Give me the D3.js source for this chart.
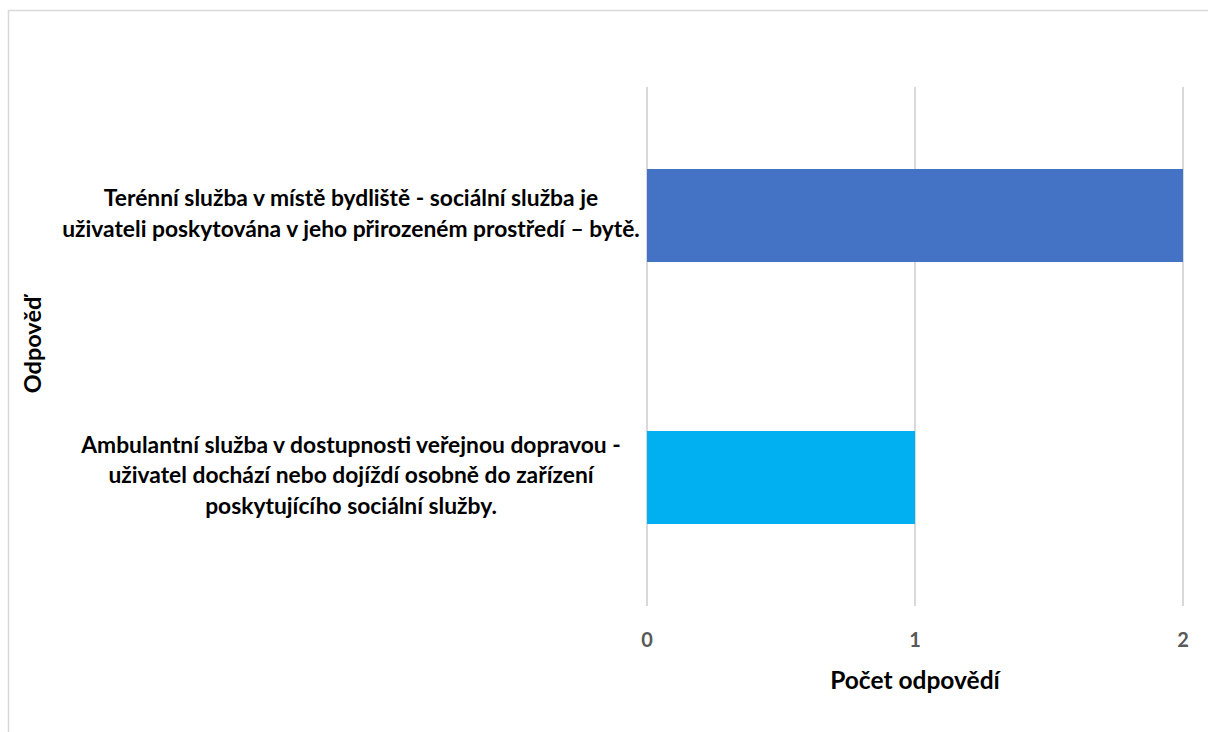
<!DOCTYPE html>
<html>
<head>
<meta charset="utf-8">
<script src="https://cdn.jsdelivr.net/npm/d3@7"></script>
<style>
  body { margin: 0; background: #fff; }
  svg { display: block; }
</style>
</head>
<body>
<div id="chart"></div>
<script>
// data
const categories = [
  "Terénní služba v místě bydliště - sociální služba je uživateli poskytována v jeho přirozeném prostředí – bytě.",
  "Ambulantní služba v dostupnosti veřejnou dopravou - uživatel dochází nebo dojíždí osobně do zařízení poskytujícího sociální služby."
]
const labelLines = [
  ["Terénní služba v místě bydliště - sociální služba je", "uživateli poskytována v jeho přirozeném prostředí – bytě."],
  ["Ambulantní služba v dostupnosti veřejnou dopravou -", "uživatel dochází nebo dojíždí osobně do zařízení", "poskytujícího sociální služby."]
]
const values = [2, 1]
const barColors = ["#4472C4", "#00B0F0"]
const xTicks = [0, 1, 2]

const width = 1208, height = 732
const font = "Lato, Carlito, Calibri, sans-serif"

const svg = d3.select("#chart")
  .append("svg")
    .attr("width", width)
    .attr("height", height)

// chart area border (cropped on right and bottom)
svg.append("rect")
  .attr("x", 8.5)
  .attr("y", 10.5)
  .attr("width", 1300)
  .attr("height", 800)
  .attr("fill", "none")
  .attr("stroke", "#D9D9D9")
  .attr("stroke-width", 1.5)

const plot = { left: 647, right: 1183, top: 87, bottom: 606 }

const xScale = d3.scaleLinear()
  .domain([0, 2])
  .range([plot.left, plot.right])

const yScale = d3.scaleBand()
  .domain(categories)
  .range([plot.top, plot.bottom])
  .paddingInner(0.645)
  .paddingOuter(0.313)

// gridlines
svg.append("g")
  .selectAll("line")
  .data(xTicks)
  .join("line")
    .attr("x1", d => xScale(d))
    .attr("x2", d => xScale(d))
    .attr("y1", plot.top)
    .attr("y2", plot.bottom)
    .attr("stroke", "#D9D9D9")
    .attr("stroke-width", 2)

// bars
svg.append("g")
  .selectAll("rect")
  .data(values)
  .join("rect")
    .attr("x", xScale(0))
    .attr("y", (d, i) => yScale(categories[i]))
    .attr("width", d => xScale(d) - xScale(0))
    .attr("height", yScale.bandwidth())
    .attr("fill", (d, i) => barColors[i])

// x tick labels
svg.append("g")
  .selectAll("text")
  .data(xTicks)
  .join("text")
    .text(d => d)
    .attr("x", d => xScale(d))
    .attr("y", 647)
    .attr("text-anchor", "middle")
    .style("font-family", font)
    .style("font-weight", "bold")
    .style("font-size", "20px")
    .attr("fill", "#595959")

// category labels
const lineH = 30.5
const labels = svg.append("g")
  .selectAll("text")
  .data(categories)
  .join("text")
    .attr("text-anchor", "middle")
    .style("font-family", font)
    .style("font-weight", "bold")
    .style("font-size", "22.8px")
    .attr("fill", "#000")

labels.each(function(d, i) {
  const lines = labelLines[i]
  const cy = yScale(d) + yScale.bandwidth() / 2
  const y0 = cy - (lines.length - 1) * lineH / 2 + 6
  d3.select(this)
    .selectAll("tspan")
    .data(lines)
    .join("tspan")
      .attr("x", 351)
      .attr("y", (l, j) => y0 + j * lineH)
      .text(l => l)
})

// axis titles
svg.append("text")
  .text("Počet odpovědí")
  .attr("x", 915)
  .attr("y", 689)
  .attr("text-anchor", "middle")
  .style("font-family", font)
  .style("font-weight", "bold")
  .style("font-size", "24.5px")
  .attr("fill", "#000")

svg.append("text")
  .text("Odpověď")
  .attr("transform", "translate(41, 345) rotate(-90)")
  .attr("text-anchor", "middle")
  .style("font-family", font)
  .style("font-weight", "bold")
  .style("font-size", "23.5px")
  .attr("fill", "#000")
</script>
</body>
</html>
